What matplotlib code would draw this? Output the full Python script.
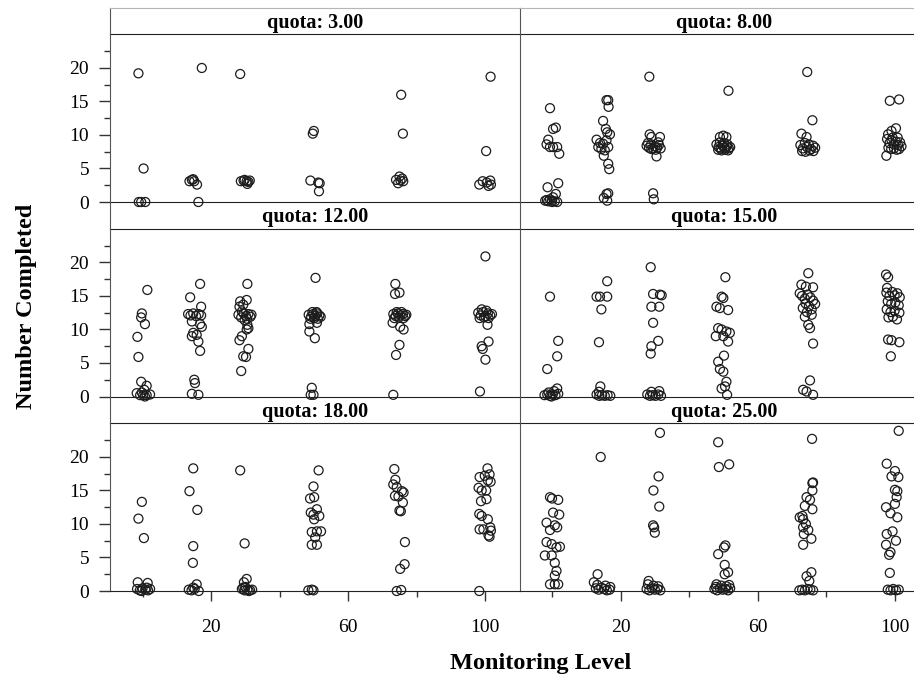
import matplotlib.pyplot as plt

plt.rcParams['font.family'] = ['Liberation Serif', 'DejaVu Serif']

# strip labels, panel order: row by row, left then right
quotas = ["3.00", "8.00", "12.00", "15.00", "18.00", "25.00"]

# monitoring level (jittered) and number completed
q3_x = [-1.2, 0.3, -1.1, -0.4, 0.8,
        17.3, 13.7, 14.4, 15.1, 15.9, 14.8, 16.3,
        28.5, 28.7, 29.5, 30.4, 31.3, 30.6, 29.8, 30.9,
        50.0, 49.7, 49.0, 51.3, 51.7, 51.5,
        75.5, 76.0, 74.0, 75.0, 75.3, 76.1, 74.6, 75.8,
        101.6, 100.3, 98.3, 99.3, 100.5, 101.5, 101.7, 101.0]
q3_y = [19.2, 5.0, 0, 0, 0,
        20.0, 3.1, 3.3, 3.1, 2.6, 3.4, 0,
        19.1, 3.1, 3.2, 3.1, 3.2, 2.7, 3.3, 3.0,
        10.6, 10.2, 3.2, 2.9, 2.8, 1.6,
        16.0, 10.2, 3.3, 3.8, 3.2, 3.1, 2.8, 3.5,
        18.7, 7.6, 2.6, 3.1, 2.9, 3.2, 2.6, 2.4]

q8_x = [-0.6, 0.3, 1.1, -1.1, -1.6, -0.6, 0.3, 1.5, 2.1, -1.3, 1.8,
        -2.0, -1.1, -0.1, 0.8, 1.5, 0.3, -0.6, 1.1, -1.5, 0.0,
        15.9, 16.4, 16.5, 14.9, 15.7, 16.1, 16.9, 13.0, 14.0, 14.9, 15.9,
        16.4, 13.5, 14.4, 15.4, 15.1, 16.4, 16.7, 15.9, 16.4, 15.1, 16.1,
        28.4, 28.5, 29.0, 31.5, 27.6, 28.3, 28.9, 29.5, 30.1, 30.7, 31.2,
        31.7, 29.0, 30.3, 28.0, 31.0, 30.5, 29.5, 29.7,
        51.5, 49.0, 50.0, 50.9, 48.0, 48.6, 49.2, 49.8, 50.4, 51.0, 51.6,
        52.0, 48.5, 49.5, 50.5, 51.4, 49.0, 50.2, 51.2,
        74.5, 76.0, 72.8, 74.3, 72.5, 73.2, 73.8, 74.4, 75.0, 75.6, 76.2,
        76.8, 73.0, 74.0, 75.2, 76.3,
        98.6, 101.3, 100.4, 99.1, 98.1, 97.8, 98.5, 99.1, 99.8, 100.4,
        101.0, 101.6, 102.0, 98.2, 99.0, 99.8, 100.6, 101.3, 99.4, 100.9, 97.6]
q8_y = [14.0, 10.9, 11.1, 9.3, 8.6, 8.2, 8.2, 8.2, 7.2, 2.2, 2.8,
        0.2, 0.1, 0.2, 0.1, 0.0, 0.7, 0.4, 1.2, 0.3, 0.0,
        15.2, 15.2, 14.2, 12.1, 10.9, 10.4, 10.1, 9.3, 8.8, 8.7, 9.2,
        8.2, 8.2, 7.9, 7.7, 6.9, 5.7, 4.9, 1.2, 1.3, 0.6, 0.2,
        18.7, 10.1, 9.7, 9.7, 8.4, 8.1, 8.6, 8.0, 8.3, 8.1, 8.5,
        8.0, 7.9, 7.8, 8.8, 8.9, 6.8, 1.3, 0.4,
        16.6, 9.7, 9.9, 9.7, 8.6, 8.2, 8.0, 8.4, 8.1, 8.3, 8.0,
        8.2, 7.8, 7.7, 7.8, 7.7, 8.9, 8.8, 8.6,
        19.4, 12.2, 10.2, 9.7, 8.5, 8.0, 8.8, 8.2, 8.6, 7.9, 8.4,
        8.1, 7.6, 7.5, 7.7, 7.6,
        15.1, 15.3, 11.0, 10.6, 10.1, 9.4, 8.8, 9.2, 8.6, 9.0,
        8.5, 8.9, 8.3, 8.1, 7.9, 8.0, 7.8, 7.9, 9.6, 9.6, 6.9]

q12_x = [1.4, -0.2, -0.4, 0.7, -1.5, -1.2, -0.4, 1.2,
         -1.7, -0.7, 0.2, 1.2, 2.2, 0.7, -0.2, 0.5,
         16.8, 13.9, 17.1, 13.3, 14.0, 14.8, 15.6, 16.4, 17.1, 14.4, 16.8,
         17.3, 14.8, 15.8, 14.4, 16.3, 16.8, 15.1, 15.3, 14.4, 16.3,
         30.6, 30.4, 28.5, 29.4, 28.3, 28.0, 28.8, 29.5, 30.2, 30.9, 31.5,
         29.0, 30.5, 31.8, 29.8, 30.6, 30.9, 30.4, 29.0, 28.3, 30.9, 29.4,
         30.2, 28.8,
         50.5, 48.5, 49.2, 49.8, 50.4, 51.0, 51.6, 49.0, 50.1, 51.2, 49.6,
         50.8, 52.0, 48.7, 50.9, 48.7, 50.3, 49.4, 49.1, 49.9,
         73.8, 73.7, 75.0, 73.2, 73.9, 74.6, 75.3, 76.0, 76.7, 73.5, 74.8,
         76.2, 74.2, 75.6, 77.0, 73.0, 75.2, 76.2, 75.0, 74.0, 73.2,
         100.1, 98.0, 98.7, 99.4, 100.1, 100.8, 101.5, 102.0, 98.4, 99.7,
         101.0, 99.0, 100.4, 100.7, 101.0, 99.0, 99.3, 100.1, 98.5]
q12_y = [15.9, 12.4, 11.8, 10.8, 8.9, 5.9, 2.2, 1.6,
         0.5, 0.2, 0.2, 0.2, 0.3, 0.0, 0.6, 1.0,
         16.8, 14.8, 13.4, 12.3, 12.1, 12.4, 12.0, 12.3, 12.1, 11.2, 10.8,
         10.4, 9.5, 9.2, 9.0, 8.2, 6.8, 2.5, 2.0, 0.4, 0.25,
         16.8, 14.4, 14.2, 13.7, 13.4, 12.2, 11.8, 12.4, 12.0, 12.3, 11.9,
         12.7, 11.6, 12.2, 11.4, 10.7, 10.2, 10.0, 9.0, 8.4, 7.1, 6.0,
         5.9, 3.8,
         17.7, 12.2, 11.9, 12.3, 12.0, 12.4, 12.1, 11.6, 11.7, 11.6, 12.6,
         12.6, 11.9, 10.8, 11.0, 9.7, 8.7, 1.3, 0.25, 0.25,
         16.8, 15.3, 15.5, 12.3, 12.0, 12.4, 12.1, 12.3, 12.0, 11.7, 11.8,
         11.7, 12.6, 12.6, 12.2, 11.0, 10.4, 10.0, 7.7, 6.2, 0.25,
         20.9, 12.5, 12.1, 12.6, 12.0, 12.4, 12.1, 12.3, 11.7, 11.8,
         11.7, 13.0, 12.8, 10.7, 8.2, 7.5, 7.1, 5.5, 0.75]

q15_x = [-0.6, 1.8, 1.5, -1.4,
         -2.2, -1.4, -0.6, 0.2, 1.0, 1.8, -1.0, 0.6, 1.5, -0.2,
         16.1, 13.0, 14.0, 16.1, 14.4, 13.7,
         13.0, 13.8, 14.6, 15.4, 16.2, 17.0, 13.7, 14.1,
         28.8, 29.5, 31.5, 32.0, 29.0, 31.3, 29.5, 31.0, 29.0, 28.8,
         27.8, 28.6, 29.4, 30.2, 31.0, 31.8, 29.0, 31.3,
         50.6, 49.5, 50.0, 48.0, 49.0, 51.4, 48.5, 49.5, 50.9, 51.9, 47.8,
         50.0, 51.4, 50.2, 48.5, 49.0, 50.0, 50.9, 50.5, 49.5, 51.1,
         74.8, 72.8, 74.1, 76.2, 72.3, 73.0, 73.8, 74.6, 75.4, 76.2, 76.8,
         74.0, 75.0, 73.2, 75.8, 74.4, 73.8, 75.8, 74.8, 75.3, 76.2, 75.3,
         73.3, 74.3, 76.2,
         97.5, 98.1, 97.8, 97.6, 98.5, 99.3, 100.0, 100.8, 101.5, 98.0,
         99.0, 100.2, 101.2, 97.7, 98.8, 100.0, 101.4, 99.5, 100.7, 98.2,
         98.1, 99.1, 101.4, 98.9]
q15_y = [14.9, 8.3, 6.0, 4.1,
         0.2, 0.3, 0.1, 0.3, 0.2, 0.4, 0.6, 0.8, 1.2, 0.0,
         17.2, 14.9, 14.9, 14.9, 13.0, 8.1,
         0.3, 0.1, 0.2, 0.1, 0.2, 0.1, 0.7, 1.5,
         19.3, 15.3, 15.2, 15.1, 13.4, 13.4, 11.0, 8.3, 7.5, 6.4,
         0.3, 0.1, 0.2, 0.1, 0.3, 0.1, 0.7, 0.8,
         17.8, 14.9, 14.7, 13.4, 13.2, 12.9, 10.2, 10.0, 9.7, 9.5, 9.0,
         9.0, 8.2, 6.1, 5.2, 4.1, 3.7, 2.2, 1.5, 1.2, 0.25,
         18.4, 16.7, 16.4, 16.3, 15.4, 15.0, 14.6, 15.2, 14.8, 14.3, 13.8,
         13.9, 13.5, 13.2, 13.0, 12.6, 11.9, 12.2, 10.7, 10.2, 7.9, 2.4,
         1.0, 0.75, 0.25,
         18.2, 17.8, 16.2, 15.5, 15.0, 15.6, 15.1, 15.4, 14.8, 14.2,
         13.8, 14.0, 13.6, 13.0, 12.6, 12.8, 12.5, 11.9, 11.5, 11.8,
         8.5, 8.4, 8.1, 6.0]

q18_x = [-0.2, -1.2, 0.4, -1.4, 1.5,
         -1.6, -0.8, 0.0, 0.8, 1.6, 2.2, -0.3, 1.2,
         14.8, 13.7, 16.0, 14.8, 14.7, 15.8, 13.5, 14.3, 15.2, 16.4, 14.8,
         28.5, 29.8, 30.4, 29.6, 29.0, 29.8, 30.6, 31.4, 32.0, 30.0, 31.0, 29.4,
         51.4, 49.9, 48.9, 50.1, 50.9, 49.1, 49.9, 51.6, 50.1, 49.4, 50.9,
         52.1, 50.4, 49.4, 50.9, 48.4, 49.4, 49.9,
         73.5, 73.8, 73.2, 74.2, 75.7, 76.2, 73.7, 74.7, 76.0, 75.0, 75.4,
         76.6, 76.5, 75.2, 74.2, 75.5,
         100.7, 98.4, 99.9, 101.3, 100.8, 101.6, 98.1, 99.0, 100.3, 98.8,
         100.4, 98.3, 99.0, 100.8, 98.4, 99.5, 101.5, 101.7, 101.0, 101.3, 98.3]
q18_y = [13.3, 10.8, 7.9, 1.3, 1.2,
         0.3, 0.1, 0.4, 0.2, 0.1, 0.3, 0.0, 0.5,
         18.3, 14.9, 12.1, 6.7, 4.2, 1.0, 0.2, 0.1, 0.3, 0.0, 0.5,
         18.0, 7.1, 1.8, 1.3, 0.3, 0.1, 0.2, 0.1, 0.2, 0.6, 0.0, 0.5,
         18.0, 15.6, 13.8, 14.0, 12.2, 11.7, 11.4, 11.2, 10.7, 8.8, 8.9,
         8.9, 8.0, 6.9, 6.9, 0.1, 0.2, 0.1,
         18.2, 16.6, 15.9, 15.5, 14.9, 14.7, 14.2, 14.1, 13.2, 12.0, 11.9,
         7.3, 4.0, 3.3, 0.0, 0.15,
         18.3, 17.0, 17.2, 17.4, 16.5, 16.3, 15.4, 15.0, 15.0, 13.4,
         13.7, 11.5, 11.2, 10.7, 9.2, 9.2, 9.5, 9.0, 8.3, 8.1, 0.0]

q25_x = [-0.6, 0.0, 1.8, 0.3, 2.1, -1.6, 0.8, -0.6, 1.5, -1.6, -0.1,
         1.3, 2.3, -2.1, -0.1, 0.8, 1.3, 0.8, -0.6, 0.8, 1.8,
         14.2, 13.3, 12.2, 12.8, 13.6, 14.4, 15.2, 16.0, 16.8, 13.2, 15.6, 17.0,
         31.5, 31.1, 29.6, 31.3, 29.5, 29.8, 30.0,
         27.6, 28.4, 29.2, 30.0, 30.8, 31.6, 28.0, 29.6, 31.0, 28.2,
         48.5, 48.7, 51.7, 50.6, 50.2, 48.5, 50.4, 51.4, 50.4,
         47.4, 48.2, 49.0, 49.8, 50.6, 51.4, 52.0, 48.0, 49.4, 50.9, 47.8, 51.7,
         75.9, 76.2, 76.0, 76.0, 74.3, 75.3, 73.8, 76.0, 73.1, 72.3, 73.3,
         74.1, 73.3, 74.8, 73.5, 75.7, 73.3, 75.7, 74.3, 75.1,
         72.2, 73.0, 73.8, 74.6, 75.4, 76.2,
         101.2, 97.7, 100.1, 99.1, 101.1, 100.1, 100.8, 100.6, 100.1, 97.5,
         98.8, 100.8, 99.4, 97.7, 100.4, 97.5, 98.8, 98.4, 98.6,
         98.0, 98.8, 99.6, 100.4, 101.2]
q25_y = [14.0, 13.8, 13.6, 11.7, 11.4, 10.2, 9.8, 9.1, 9.5, 7.3, 7.0,
         6.5, 6.6, 5.3, 5.3, 4.2, 3.0, 2.3, 1.0, 1.0, 1.0,
         20.0, 2.5, 1.3, 0.4, 0.2, 0.5, 0.3, 0.1, 0.2, 0.9, 0.8, 0.6,
         23.6, 17.1, 15.0, 12.6, 9.8, 9.5, 8.7,
         0.3, 0.1, 0.4, 0.2, 0.3, 0.1, 1.0, 0.8, 0.7, 1.5,
         22.2, 18.5, 18.9, 6.8, 6.5, 5.5, 3.9, 2.8, 2.5,
         0.3, 0.1, 0.4, 0.2, 0.3, 0.1, 0.4, 1.0, 0.8, 0.7, 0.6, 0.9,
         22.7, 16.2, 16.1, 15.0, 14.0, 13.6, 12.7, 12.2, 11.2, 11.0, 10.7,
         10.0, 9.5, 9.1, 8.5, 7.8, 6.9, 2.8, 2.2, 1.5,
         0.1, 0.2, 0.1, 0.3, 0.2, 0.1,
         23.9, 19.0, 17.9, 17.1, 17.0, 15.1, 14.9, 14.0, 13.0, 12.5,
         11.6, 11.0, 8.9, 8.5, 7.5, 6.9, 5.8, 5.4, 2.7,
         0.2, 0.1, 0.3, 0.1, 0.2]

y_major = [0, 5, 10, 15, 20]
y_minor = [2.5, 7.5, 12.5, 17.5, 22.5]
x_major = [20, 60, 100]
x_minor = [0, 40, 80]

panels = [(q3_x, q3_y), (q8_x, q8_y), (q12_x, q12_y),
          (q15_x, q15_y), (q18_x, q18_y), (q25_x, q25_y)]

W, H = 914, 679
fig = plt.figure(figsize=(W / 100, H / 100), dpi=100)

def box(x0, y0, w, h):
    return [x0 / W, 1 - (y0 + h) / H, w / W, h / H]

col_x = [110, 519.5]
panel_w = 409.7
strip_h = 26.5
panel_h = 168
row_top = [7.5, 202, 396.5]
frame = '#555555'

for i, (xs, ys) in enumerate(panels):
    r, c = divmod(i, 2)
    x0 = col_x[c]
    top = row_top[r]

    st = fig.add_axes(box(x0, top, panel_w, strip_h))
    st.set_xticks([])
    st.set_yticks([])
    st.patch.set_alpha(0)
    st.spines['right'].set_visible(False)
    st.spines['left'].set_color(frame)
    st.spines['bottom'].set_color('#222222')
    if r == 0:
        st.spines['top'].set_color('#b5b5b5')
    else:
        st.spines['top'].set_visible(False)
    st.text(0.5, 0.42, 'quota: ' + quotas[i], ha='center', va='center',
            fontsize=14.5, fontweight='bold', transform=st.transAxes)

    ax = fig.add_axes(box(x0, top + strip_h, panel_w, panel_h))
    ax.patch.set_alpha(0)
    ax.scatter(xs, ys, s=42, facecolors='none', edgecolors='#1c1c1c',
               linewidths=0.9, clip_on=False, zorder=3)
    ax.set_xlim(-9.5, 110.1)
    ax.set_ylim(0, 25.07)
    ax.spines['top'].set_visible(False)
    ax.spines['right'].set_visible(False)
    ax.spines['left'].set_color(frame)
    ax.spines['bottom'].set_color('#222222')

    if c == 0:
        ax.set_yticks(y_major)
        ax.set_yticks(y_minor, minor=True)
        ax.tick_params(axis='y', which='major', length=8, width=1,
                       color='#333333', labelsize=14, pad=7)
        ax.tick_params(axis='y', which='minor', length=4.5, width=1,
                       color='#333333')
    else:
        ax.set_yticks([])

    if r == 2:
        ax.set_xticks(x_major)
        ax.set_xticks(x_minor, minor=True)
        ax.tick_params(axis='x', which='major', length=7.5, width=1,
                       color='#333333', labelsize=14, pad=13)
        ax.tick_params(axis='x', which='minor', length=4.5, width=1,
                       color='#333333')
    else:
        ax.set_xticks([])

fig.text(27 / W, 1 - 306 / H, 'Number Completed', rotation=90,
         ha='center', va='center', fontsize=17.5, fontweight='bold')
fig.text(541 / W, 1 - 663 / H, 'Monitoring Level',
         ha='center', va='center', fontsize=17.5, fontweight='bold')

fig.savefig('out.png', dpi=100)
